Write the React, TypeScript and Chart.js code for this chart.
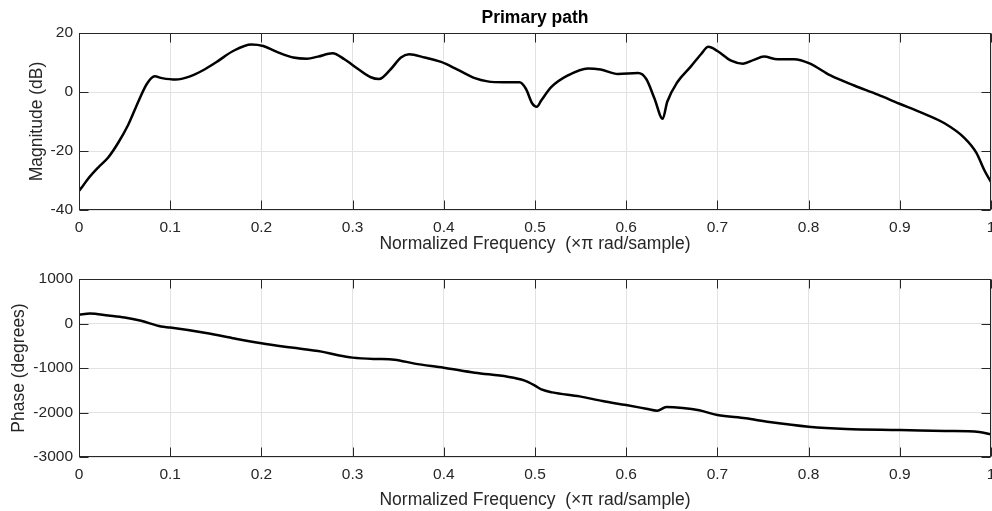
import React, { useEffect, useRef } from "react";
import { Chart, registerables } from "chart.js";

Chart.register(...registerables);

// ---- data ----
const magFreq = [0, 0.005, 0.01, 0.021, 0.032, 0.043, 0.054, 0.065, 0.0745, 0.083, 0.091, 0.106, 0.121, 0.135, 0.15, 0.169, 0.189, 0.202, 0.217, 0.235, 0.25, 0.262, 0.278, 0.291, 0.306, 0.32, 0.329, 0.342, 0.353, 0.362, 0.379, 0.397, 0.415, 0.434, 0.448, 0.466, 0.483, 0.49, 0.497, 0.502, 0.507, 0.518, 0.536, 0.558, 0.572, 0.591, 0.613, 0.622, 0.631, 0.64, 0.645, 0.656, 0.671, 0.682, 0.69, 0.7, 0.715, 0.728, 0.74, 0.751, 0.766, 0.784, 0.801, 0.824, 0.85, 0.876, 0.899, 0.923, 0.949, 0.971, 0.984, 0.993, 1.0];
const magDb = [-33.5, -31.5, -29.4, -25.6, -22.2, -17.2, -11.1, -3.3, 2.8, 5.3, 4.7, 4.2, 5.2, 7.2, 10, 13.9, 16.1, 15.6, 13.6, 11.7, 11.3, 12, 13.1, 11.1, 7.8, 5, 4.4, 7.8, 11.7, 12.8, 11.7, 10.2, 7.6, 4.7, 3.6, 3.3, 3.3, 1.1, -3.9, -5, -2.8, 1.7, 5.6, 8, 7.6, 6.1, 6.4, 4.4, -2.2, -9.1, -3.3, 3.3, 8.7, 12.8, 15.3, 13.9, 10.6, 9.6, 10.9, 12, 11.1, 11.1, 9.7, 5.6, 2.2, -0.9, -3.9, -6.9, -10.6, -15.6, -20.6, -26.7, -30.5];

const phaseFreq = [0, 0.012, 0.032, 0.05, 0.068, 0.09, 0.1, 0.141, 0.171, 0.2, 0.233, 0.266, 0.284, 0.3, 0.324, 0.346, 0.368, 0.4, 0.434, 0.47, 0.488, 0.499, 0.507, 0.519, 0.549, 0.574, 0.6, 0.622, 0.634, 0.644, 0.662, 0.68, 0.7, 0.731, 0.757, 0.8, 0.841, 0.9, 0.95, 0.987, 1.0];
const phaseDeg = [195, 226, 180, 135, 60, -68, -90, -218, -338, -444, -541, -632, -714, -767, -797, -812, -902, -992, -1105, -1195, -1278, -1383, -1480, -1548, -1638, -1743, -1833, -1915, -1960, -1877, -1899, -1951, -2056, -2131, -2213, -2318, -2370, -2393, -2415, -2437, -2490];

const freqTicks = [0, 0.1, 0.2, 0.3, 0.4, 0.5, 0.6, 0.7, 0.8, 0.9, 1];
const magTicks = [-40, -20, 0, 20];
const phaseTicks = [-3000, -2000, -1000, 0, 1000];

const chartTitle = "Primary path";
const xTitle = "Normalized Frequency  (\u00d7\u03c0 rad/sample)";
const magTitle = "Magnitude (dB)";
const phaseTitle = "Phase (degrees)";

const FONT = "'Liberation Sans', Arial, Helvetica, sans-serif";
const TEXT = "#262626";
const GRID = "#e2e2e2";
const LABEL_SIZE = 17.5;
const TICK_SIZE = 15.5;

const framePlugin = {
  id: "frame",
  afterDraw(chart: any) {
    const { ctx, chartArea: a, scales } = chart;
    const L = Math.round(a.left) + 0.5;
    const R = Math.round(a.right) - 0.5;
    const T = Math.round(a.top) + 0.5;
    const B = Math.round(a.bottom) - 0.5;
    ctx.save();
    ctx.strokeStyle = TEXT;
    ctx.lineWidth = 1;
    ctx.beginPath();
    scales.x.ticks.forEach((t: any) => {
      const px = Math.round(scales.x.getPixelForValue(t.value)) + 0.5;
      ctx.moveTo(px, T);
      ctx.lineTo(px, T + 9);
      ctx.moveTo(px, B);
      ctx.lineTo(px, B - 9);
    });
    scales.y.ticks.forEach((t: any) => {
      const py = Math.round(scales.y.getPixelForValue(t.value)) + 0.5;
      ctx.moveTo(L, py);
      ctx.lineTo(L + 9, py);
      ctx.moveTo(R, py);
      ctx.lineTo(R - 9, py);
    });
    ctx.stroke();
    ctx.strokeRect(L, T, R - L, B - T);
    ctx.restore();
  },
};

const titlePlugin = {
  id: "topTitle",
  afterDraw(chart: any) {
    const opts = chart.options.plugins.topTitle;
    if (!opts || !opts.text) return;
    const { ctx, chartArea: a } = chart;
    ctx.save();
    ctx.fillStyle = "#000000";
    ctx.font = `bold ${LABEL_SIZE}px ${FONT}`;
    ctx.textAlign = "center";
    ctx.textBaseline = "middle";
    ctx.fillText(opts.text, (a.left + a.right) / 2, opts.y);
    ctx.restore();
  },
};

function fmtNum(v: number) {
  return String(Number(v.toFixed(3)));
}

function makeConfig(p: {
  xs: number[];
  ys: number[];
  yTicks: number[];
  yTitle: string;
  padTop: number;
  xAxisHeight: number;
  xTitlePad: number;
  yTitlePad: number;
  title?: string;
}) {
  return {
    type: "line",
    data: {
      datasets: [
        {
          data: p.xs.map((x, i) => ({ x, y: p.ys[i] })),
          borderColor: "#000000",
          borderWidth: 2.5,
          pointRadius: 0,
          fill: false,
          cubicInterpolationMode: "monotone",
        },
      ],
    },
    options: {
      responsive: false,
      maintainAspectRatio: false,
      animation: false,
      events: [],
      layout: { padding: { top: p.padTop, left: 0, right: 1, bottom: 0 } },
      plugins: {
        legend: { display: false },
        tooltip: { enabled: false },
        title: { display: false },
        topTitle: { text: p.title || "", y: 18 },
      },
      scales: {
        x: {
          type: "linear",
          min: 0,
          max: 1,
          afterBuildTicks: (s: any) => {
            s.ticks = freqTicks.map((v) => ({ value: v }));
          },
          afterFit: (s: any) => {
            s.height = p.xAxisHeight;
            s.paddingLeft = 0;
            s.paddingRight = 0;
          },
          grid: { color: GRID, lineWidth: 1, drawTicks: false },
          border: { display: false },
          ticks: {
            padding: 8,
            maxRotation: 0,
            autoSkip: false,
            color: TEXT,
            font: { family: FONT, size: TICK_SIZE },
            callback: (v: any) => fmtNum(Number(v)),
          },
          title: {
            display: true,
            text: xTitle,
            color: TEXT,
            font: { family: FONT, size: LABEL_SIZE },
            padding: { top: p.xTitlePad, bottom: 0 },
          },
        },
        y: {
          type: "linear",
          min: p.yTicks[0],
          max: p.yTicks[p.yTicks.length - 1],
          afterBuildTicks: (s: any) => {
            s.ticks = p.yTicks.map((v) => ({ value: v }));
          },
          afterFit: (s: any) => {
            s.width = 79;
            s.paddingTop = 0;
            s.paddingBottom = 0;
          },
          grid: { color: GRID, lineWidth: 1, drawTicks: false },
          border: { display: false },
          ticks: {
            padding: 6,
            autoSkip: false,
            color: TEXT,
            font: { family: FONT, size: TICK_SIZE },
            callback: (v: any) => String(v),
          },
          title: {
            display: true,
            text: p.yTitle,
            color: TEXT,
            font: { family: FONT, size: LABEL_SIZE },
            padding: { top: p.yTitlePad, bottom: 0 },
          },
        },
      },
    },
    plugins: [framePlugin, titlePlugin],
  } as any;
}

export default function App() {
  const topRef = useRef<HTMLCanvasElement>(null);
  const botRef = useRef<HTMLCanvasElement>(null);

  useEffect(() => {
    const c1 = new Chart(
      topRef.current as HTMLCanvasElement,
      makeConfig({
        xs: magFreq,
        ys: magDb,
        yTicks: magTicks,
        yTitle: magTitle,
        padTop: 33,
        xAxisHeight: 45,
        xTitlePad: 2,
        yTitlePad: 27,
        title: chartTitle,
      })
    );
    const c2 = new Chart(
      botRef.current as HTMLCanvasElement,
      makeConfig({
        xs: phaseFreq,
        ys: phaseDeg,
        yTicks: phaseTicks,
        yTitle: phaseTitle,
        padTop: 24,
        xAxisHeight: 54,
        xTitlePad: 2.5,
        yTitlePad: 8.5,
      })
    );
    return () => {
      c1.destroy();
      c2.destroy();
    };
  }, []);

  return (
    <div style={{ position: "fixed", left: 0, top: 0, width: 992, height: 511, background: "#fff" }}>
      <canvas ref={topRef} width={992} height={255} style={{ position: "absolute", left: 0, top: 0, display: "block" }} />
      <canvas ref={botRef} width={992} height={256} style={{ position: "absolute", left: 0, top: 255, display: "block" }} />
    </div>
  );
}
